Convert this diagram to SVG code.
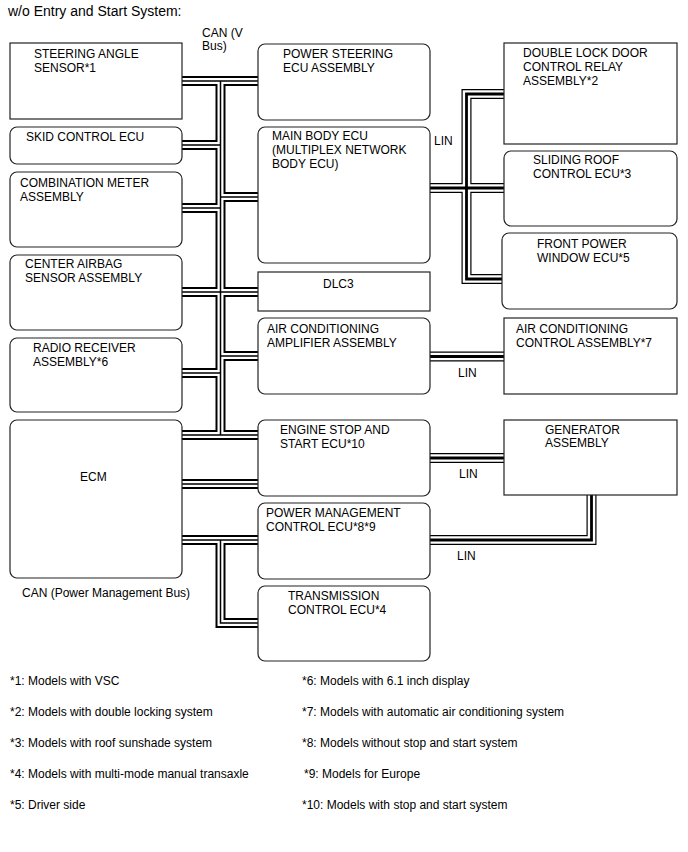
<svg xmlns="http://www.w3.org/2000/svg" width="688" height="852" viewBox="0 0 688 852">
<style>
text{font-family:"Liberation Sans",Arial,sans-serif;font-size:12px;fill:#000}
.title{font-size:14px}
.box{fill:#fff;stroke:#222;stroke-width:1.2}
.co{fill:none;stroke:#000;stroke-width:10}
.cw{fill:none;stroke:#fff;stroke-width:6}
.cc{fill:none;stroke:#000;stroke-width:1.5}
.lo{fill:none;stroke:#000;stroke-width:10}
.lw{fill:none;stroke:#fff;stroke-width:7.6}
.lc{fill:none;stroke:#000;stroke-width:2.8}
</style>
<defs>
<path id="can" d="M182,81 H258 M220.5,81 V435 M182,145 H220.5 M182,208 H220.5 M182,292 H258 M182,373 H220.5 M220.5,197 H258 M220.5,356 H258 M182,435 H258 M182,484 H258 M182,540 H258 M220.5,540 V623 H258"/>
<path id="lin" d="M430,188 H504 M504,94 H466.5 V279 H502 M430,356.5 H504 M430,458 H504 M430,540 H591.5 V495"/>
</defs>
<rect width="688" height="852" fill="#fff"/>
<text class="title" x="8" y="16">w/o Entry and Start System:</text>
<g id="connectors">
<use href="#can" class="co"/><use href="#can" class="cw"/><use href="#can" class="cc"/>
<use href="#lin" class="lo"/><use href="#lin" class="lw"/><use href="#lin" class="lc"/>
</g>
<g id="bus-labels">
<text x="202" y="37">CAN (V</text>
<text x="202" y="50">Bus)</text>
<text x="22" y="597">CAN (Power Management Bus)</text>
<text x="434" y="145">LIN</text>
<text x="458" y="377">LIN</text>
<text x="459" y="478">LIN</text>
<text x="457" y="560">LIN</text>
</g>
<g id="steering-angle-sensor"><rect class="box" x="10" y="43" width="172" height="76"/><text x="34" y="58">STEERING ANGLE</text><text x="34" y="72">SENSOR*1</text></g>
<g id="skid-control-ecu"><rect class="box" x="10" y="127" width="172" height="37" rx="7"/><text x="26" y="141">SKID CONTROL ECU</text></g>
<g id="combination-meter"><rect class="box" x="10" y="172" width="172" height="75" rx="7"/><text x="20" y="187">COMBINATION METER</text><text x="20" y="201">ASSEMBLY</text></g>
<g id="center-airbag-sensor"><rect class="box" x="10" y="255" width="172" height="75" rx="7"/><text x="25" y="268">CENTER AIRBAG</text><text x="25" y="282">SENSOR ASSEMBLY</text></g>
<g id="radio-receiver"><rect class="box" x="10" y="338" width="172" height="74" rx="7"/><text x="33" y="352">RADIO RECEIVER</text><text x="33" y="366">ASSEMBLY*6</text></g>
<g id="ecm"><rect class="box" x="10" y="420" width="172" height="158" rx="7"/><text x="80" y="481">ECM</text></g>
<g id="power-steering-ecu"><rect class="box" x="258" y="44" width="172" height="76" rx="7"/><text x="283" y="58">POWER STEERING</text><text x="283" y="72">ECU ASSEMBLY</text></g>
<g id="main-body-ecu"><rect class="box" x="258" y="127" width="172" height="136" rx="7"/><text x="272" y="140">MAIN BODY ECU</text><text x="272" y="154">(MULTIPLEX NETWORK</text><text x="272" y="168">BODY ECU)</text></g>
<g id="dlc3"><rect class="box" x="258" y="272" width="172" height="39"/><text x="323" y="288">DLC3</text></g>
<g id="air-conditioning-amplifier"><rect class="box" x="258" y="318" width="172" height="76" rx="7"/><text x="267" y="333">AIR CONDITIONING</text><text x="267" y="347">AMPLIFIER ASSEMBLY</text></g>
<g id="engine-stop-start-ecu"><rect class="box" x="258" y="420" width="172" height="76" rx="7"/><text x="280" y="434">ENGINE STOP AND</text><text x="280" y="448">START ECU*10</text></g>
<g id="power-management-ecu"><rect class="box" x="258" y="503" width="172" height="76" rx="7"/><text x="266" y="517">POWER MANAGEMENT</text><text x="266" y="531">CONTROL ECU*8*9</text></g>
<g id="transmission-control-ecu"><rect class="box" x="258" y="586" width="172" height="75" rx="7"/><text x="288" y="600">TRANSMISSION</text><text x="288" y="614">CONTROL ECU*4</text></g>
<g id="double-lock-door-relay"><rect class="box" x="504" y="43" width="173" height="101"/><text x="523" y="57">DOUBLE LOCK DOOR</text><text x="523" y="71">CONTROL RELAY</text><text x="523" y="85">ASSEMBLY*2</text></g>
<g id="sliding-roof-ecu"><rect class="box" x="504" y="151" width="173" height="75" rx="7"/><text x="533" y="164">SLIDING ROOF</text><text x="533" y="178">CONTROL ECU*3</text></g>
<g id="front-power-window-ecu"><rect class="box" x="502" y="233" width="175" height="76" rx="7"/><text x="537" y="248">FRONT POWER</text><text x="537" y="262">WINDOW ECU*5</text></g>
<g id="air-conditioning-control"><rect class="box" x="504" y="318" width="173" height="76"/><text x="516" y="333">AIR CONDITIONING</text><text x="516" y="347">CONTROL ASSEMBLY*7</text></g>
<g id="generator-assembly"><rect class="box" x="504" y="420" width="173" height="75"/><text x="545" y="434">GENERATOR</text><text x="545" y="447">ASSEMBLY</text></g>
<g id="footnotes">
<text x="10" y="685">*1: Models with VSC</text>
<text x="10" y="716">*2: Models with double locking system</text>
<text x="10" y="747">*3: Models with roof sunshade system</text>
<text x="10" y="778">*4: Models with multi-mode manual transaxle</text>
<text x="10" y="809">*5: Driver side</text>
<text x="302" y="685">*6: Models with 6.1 inch display</text>
<text x="302" y="716">*7: Models with automatic air conditioning system</text>
<text x="302" y="747">*8: Models without stop and start system</text>
<text x="304" y="778">*9: Models for Europe</text>
<text x="302" y="809">*10: Models with stop and start system</text>
</g>
</svg>
